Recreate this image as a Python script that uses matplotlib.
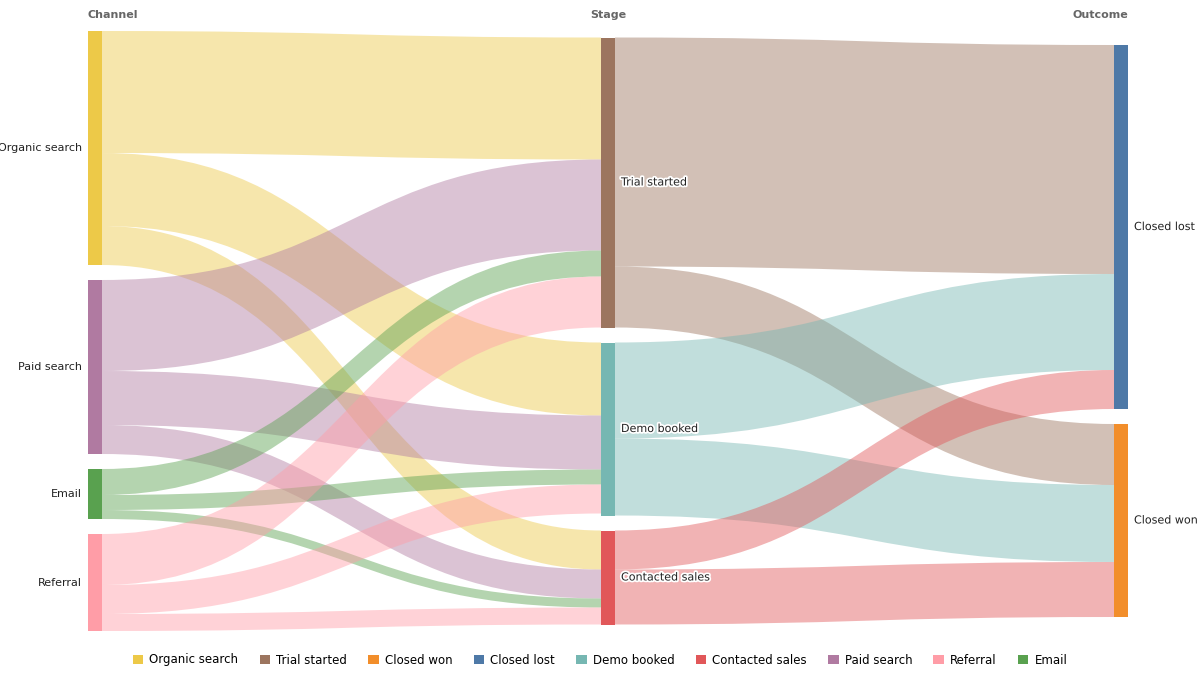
import matplotlib.pyplot as plt
from matplotlib.path import Path
from matplotlib.patches import PathPatch, Rectangle, Patch
import matplotlib.patheffects as pe

# columns of nodes
channels = ["Organic search", "Paid search", "Email", "Referral"]
stages = ["Trial started", "Demo booked", "Contacted sales"]
outcomes = ["Closed lost", "Closed won"]

# flows channel -> stage (rows: channels, cols: stages)
channel_to_stage = [
    [122, 73, 39],
    [91, 54, 29],
    [26, 15, 9],
    [51, 29, 17],
]
# flows stage -> outcome (rows: stages, cols: outcomes)
stage_to_outcome = [
    [229, 61],
    [96, 77],
    [39, 55],
]

colors = {
    "Organic search": "#edc948", "Trial started": "#9c755f", "Closed won": "#f28e2b",
    "Closed lost": "#4e79a7", "Demo booked": "#76b7b2", "Contacted sales": "#e15759",
    "Paid search": "#b07aa1", "Referral": "#ff9da7", "Email": "#59a14f",
}
legend_order = ["Organic search", "Trial started", "Closed won", "Closed lost", "Demo booked",
                "Contacted sales", "Paid search", "Referral", "Email"]

GAP = 15
CENTER = 331
NODE_W = 14
col_x = [88, 601, 1114]


def layout(sizes):
    total = sum(sizes) + GAP * (len(sizes) - 1)
    y = CENTER - total / 2
    tops = []
    for s in sizes:
        tops.append(y)
        y += s + GAP
    return tops


ch_size = [sum(r) for r in channel_to_stage]
st_in = [sum(r[j] for r in channel_to_stage) for j in range(len(stages))]
st_out = [sum(r) for r in stage_to_outcome]
st_size = [max(a, b) for a, b in zip(st_in, st_out)]
oc_size = [sum(r[j] for r in stage_to_outcome) for j in range(len(outcomes))]

ch_top = layout(ch_size)
st_top = layout(st_size)
oc_top = layout(oc_size)

fig = plt.figure(figsize=(12, 6.8), dpi=100)
ax = fig.add_axes([0, 0, 1, 1])
ax.set_xlim(0, 1200)
ax.set_ylim(680, 0)
ax.axis("off")


def draw_link(x0, y0, x1, y1, w, color):
    xm = (x0 + x1) / 2
    verts = [(x0, y0), (xm, y0), (xm, y1), (x1, y1),
             (x1, y1 + w), (xm, y1 + w), (xm, y0 + w), (x0, y0 + w), (x0, y0)]
    codes = [Path.MOVETO, Path.CURVE4, Path.CURVE4, Path.CURVE4,
             Path.LINETO, Path.CURVE4, Path.CURVE4, Path.CURVE4, Path.CLOSEPOLY]
    ax.add_patch(PathPatch(Path(verts, codes), facecolor=color, edgecolor="none", alpha=0.45, zorder=1))


def draw_flows(flows, src_top, dst_top, xs, xd, src_names):
    dst_off = list(dst_top)
    for i, row in enumerate(flows):
        y = src_top[i]
        for j, v in enumerate(row):
            draw_link(xs + NODE_W, y, xd, dst_off[j], v, colors[src_names[i]])
            y += v
            dst_off[j] += v


draw_flows(channel_to_stage, ch_top, st_top, col_x[0], col_x[1], channels)
draw_flows(stage_to_outcome, st_top, oc_top, col_x[1], col_x[2], stages)

halo = [pe.withStroke(linewidth=2.5, foreground="white")]
for names, tops, sizes, x, side in [(channels, ch_top, ch_size, col_x[0], "left"),
                                     (stages, st_top, st_size, col_x[1], "right"),
                                     (outcomes, oc_top, oc_size, col_x[2], "right")]:
    for n, t, s in zip(names, tops, sizes):
        ax.add_patch(Rectangle((x, t), NODE_W, s, facecolor=colors[n], edgecolor="none", zorder=3))
        if side == "left":
            ax.text(x - 6, t + s / 2, n, ha="right", va="center", fontsize=8, color="#222222")
        else:
            ax.text(x + NODE_W + 6, t + s / 2, n, ha="left", va="center", fontsize=8,
                    color="#222222", path_effects=halo, zorder=4)

ax.text(col_x[0], 15, "Channel", ha="left", va="center", fontsize=8, fontweight="bold", color="#666666")
ax.text(col_x[1] + NODE_W / 2, 15, "Stage", ha="center", va="center", fontsize=8, fontweight="bold", color="#666666")
ax.text(col_x[2] + NODE_W, 15, "Outcome", ha="right", va="center", fontsize=8, fontweight="bold", color="#666666")

handles = [Patch(facecolor=colors[n], edgecolor="none", label=n) for n in legend_order]
fig.legend(handles=handles, loc="center", bbox_to_anchor=(0.5, 1 - 660 / 680), ncol=9, frameon=False,
           fontsize=8.5, handlelength=0.9, handleheight=0.9, handletextpad=0.5, columnspacing=1.8)

fig.savefig("out.png", dpi=100, facecolor="white")
